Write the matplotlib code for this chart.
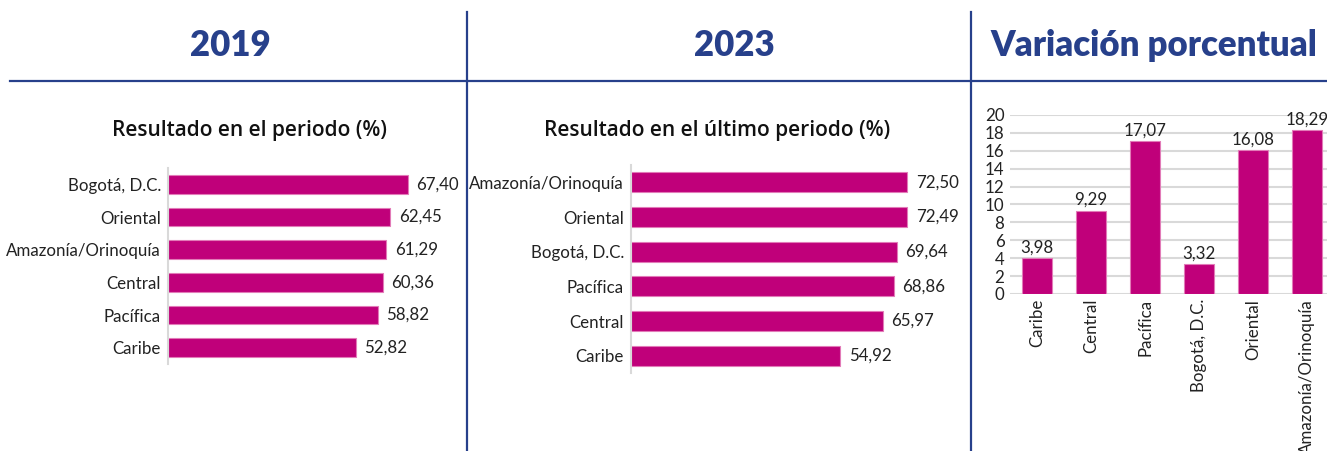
import matplotlib
matplotlib.use('Agg')
import matplotlib.pyplot as plt
from matplotlib.lines import Line2D

plt.rcParams['font.family'] = ['Lato', 'DejaVu Sans']

W, H = 1327, 451
MAGENTA = '#c0007a'
EDGE = '#e27bb8'
NAVY = '#27408b'
GRIS = '#d9d9d9'

# datos
reg_2019 = ['Bogotá, D.C.', 'Oriental', 'Amazonía/Orinoquía', 'Central', 'Pacífica', 'Caribe']
val_2019 = [67.40, 62.45, 61.29, 60.36, 58.82, 52.82]
reg_2023 = ['Amazonía/Orinoquía', 'Oriental', 'Bogotá, D.C.', 'Pacífica', 'Central', 'Caribe']
val_2023 = [72.50, 72.49, 69.64, 68.86, 65.97, 54.92]
reg_var = ['Caribe', 'Central', 'Pacífica', 'Bogotá, D.C.', 'Oriental', 'Amazonía/Orinoquía']
val_var = [3.98, 9.29, 17.07, 3.32, 16.08, 18.29]

FS = 12.2


def fmt(v):
    return f'{v:.2f}'.replace('.', ',')


def ax_px(fig, x0, y0, w, h):
    # coordenadas en pixeles desde arriba a la izquierda
    return fig.add_axes([x0 / W, (H - y0 - h) / H, w / W, h / H])


fig = plt.figure(figsize=(W / 100, H / 100), dpi=100)

# lineas de la tabla
fig.add_artist(Line2D([10 / W, 1], [1 - 81 / H, 1 - 81 / H], color=NAVY, lw=1.6))
for xv in (467, 971):
    fig.add_artist(Line2D([xv / W, xv / W], [0, 1 - 12 / H], color=NAVY, lw=1.6))

# encabezados
for txt, xc in (('2019', 230), ('2023', 734), ('Variación porcentual', 1154)):
    fig.text(xc / W, 1 - 45 / H, txt, ha='center', va='center', fontsize=25,
             fontweight='heavy', color=NAVY)


def barras_h(ax, regiones, valores, titulo, tx):
    y = list(range(len(regiones)))
    ax.barh(y, valores, height=0.58, color=MAGENTA, edgecolor=EDGE, linewidth=0.8)
    ax.set_ylim(len(regiones) - 0.5, -0.5)
    ax.set_xlim(0, 80)
    ax.set_yticks(y)
    ax.set_yticklabels(regiones, fontsize=FS, color='#222222')
    ax.set_xticks([])
    for s in ('top', 'right', 'bottom'):
        ax.spines[s].set_visible(False)
    ax.spines['left'].set_color(GRIS)
    ax.spines['left'].set_linewidth(1.5)
    ax.tick_params(axis='y', length=0, pad=5)
    for yi, v in zip(y, valores):
        ax.annotate(fmt(v), (v, yi), xytext=(6, 0), textcoords='offset points',
                    va='center', ha='left', fontsize=FS, color='#222222')
    fig.text(tx / W, 1 - 130 / H, titulo, ha='center', va='center',
             fontsize=15, fontweight='semibold', color='#111111',
             family=['Open Sans', 'DejaVu Sans'])


ax1 = ax_px(fig, 168, 168, 285, 196)
barras_h(ax1, reg_2019, val_2019, 'Resultado en el periodo (%)', 250)

ax2 = ax_px(fig, 631, 165, 305, 208)
barras_h(ax2, reg_2023, val_2023, 'Resultado en el último periodo (%)', 717)

# variacion porcentual
ax3 = ax_px(fig, 1010, 115, 324, 179)
x = list(range(len(reg_var)))
ax3.bar(x, val_var, width=0.56, color=MAGENTA, edgecolor=EDGE, linewidth=0.8, zorder=3)
ax3.set_xlim(-0.5, len(reg_var) - 0.5)
ax3.set_ylim(0, 20)
ax3.set_yticks(range(0, 21, 2))
ax3.set_xticks(x)
ax3.set_xticklabels(reg_var, rotation=90, fontsize=FS, color='#222222')
ax3.tick_params(axis='both', length=0, labelsize=FS, colors='#222222')
ax3.tick_params(axis='y', pad=4)
ax3.grid(axis='y', color=GRIS, lw=1.5, zorder=0)
for s in ax3.spines.values():
    s.set_visible(False)
for xi, v in zip(x, val_var):
    ax3.annotate(fmt(v), (xi, v), xytext=(0, 2), textcoords='offset points',
                 ha='center', va='bottom', fontsize=FS, color='#222222',
                 annotation_clip=False)

fig.savefig('out.png', dpi=100)
